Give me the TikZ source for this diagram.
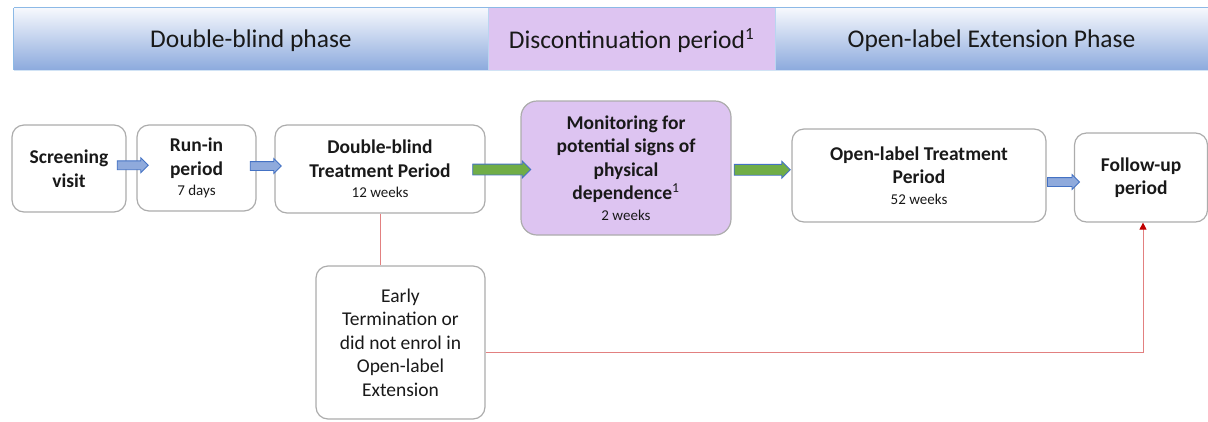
\documentclass[tikz,border=0pt]{standalone}
\usepackage{fontspec}
\setmainfont{Carlito}
\usetikzlibrary{shapes.arrows,arrows.meta,calc}

\definecolor{kopfblau}{RGB}{140,170,221}
\definecolor{kopfhell}{RGB}{246,248,253}
\definecolor{kopfrand}{RGB}{140,185,230}
\definecolor{lila}{RGB}{221,196,241}
\definecolor{boxgrau}{RGB}{172,172,172}
\definecolor{pfeilblau}{RGB}{143,170,220}
\definecolor{pfeilrand}{RGB}{68,114,196}
\definecolor{pfeilgruen}{RGB}{112,173,71}
\definecolor{rot}{RGB}{226,128,128}
\definecolor{rotdunkel}{RGB}{192,0,0}
\definecolor{schrift}{RGB}{25,25,25}

\newcommand{\gross}{\fontsize{19.5}{23.5}\selectfont}
\newcommand{\klein}{\fontsize{15}{19}\selectfont\mdseries}

\tikzset{
  kopf/.style={minimum height=62pt, inner sep=0pt, text=schrift, text depth=-2pt,
    font=\fontsize{25.5}{30}\selectfont},
  kopfblau/.style={kopf, top color=kopfhell, bottom color=kopfblau},
  box/.style={draw=boxgrau, line width=1.2pt, rounded corners=12pt, fill=white,
    align=center, inner sep=0pt, text=schrift, font=\gross\bfseries},
  blockpfeil/.style={single arrow, draw=pfeilrand, line width=0.8pt, fill=pfeilblau,
    inner xsep=0pt, inner ysep=4pt, single arrow head extend=3pt,
    single arrow head indent=0pt},
  gruenpfeil/.style={blockpfeil, fill=pfeilgruen, inner ysep=5pt},
  rotlinie/.style={draw=rot, line width=0.9pt},
}

\begin{document}
\begin{tikzpicture}[x=1pt,y=-1pt]
    \useasboundingbox (0,0) rectangle (1208,421);

    % Phasen oben
    \node[kopfblau, minimum width=474pt] (kdb) at (251,39) {Double-blind phase};
    \node[kopf, fill=lila, minimum width=287pt] (kdis) at (631.5,39)
        {Discontinuation period\textsuperscript{\fontsize{17}{20}\selectfont 1}};
    \node[kopfblau, minimum width=433pt] (kol) at (991.5,39) {Open-label Extension Phase};
    \draw[kopfrand, line width=0.8pt] (kdb.north west) -- (kol.north east);
    \draw[kopfrand!40, line width=0.8pt] (kdb.south west) -- (kol.south east);
    \draw[kopfrand, line width=0.8pt] (kdb.north west) -- (kdb.south west);
    \draw[kopfrand!60, line width=0.5pt] (kdis.north west) -- (kdis.south west)
        (kdis.north east) -- (kdis.south east);

    % Kaesten
    \node[box, minimum width=114pt, minimum height=87pt] (scr) at (69,168.5)
        {Screening\\visit};
    \node[box, minimum width=119pt, minimum height=86pt] (run) at (196.5,168)
        {Run-in\\period\\[-3pt]{\klein 7 days}};
    \node[box, minimum width=210pt, minimum height=88pt] (db) at (380,169)
        {Double-blind\\Treatment Period\\[-3pt]{\klein 12 weeks}};
    \node[box, fill=lila, rounded corners=16pt, minimum width=210pt, minimum height=134pt]
        (mon) at (626,168)
        {Monitoring for\\potential signs of\\physical\\dependence\textsuperscript{\mdseries 1}\\[-3pt]{\klein 2 weeks}};
    \node[box, minimum width=254pt, minimum height=93pt] (ol) at (919,175.5)
        {Open-label Treatment\\Period\\[-3pt]{\klein 52 weeks}};
    \node[box, minimum width=133pt, minimum height=89pt] (fu) at (1141,177.5)
        {Follow-up\\period};
    \node[box, font=\gross, minimum width=169pt, minimum height=153pt] (early) at (400.5,342.5)
        {Early\\Termination or\\did not enrol in\\Open-label\\Extension};

    % Blockpfeile
    \node[blockpfeil, minimum height=31pt] (p1) at ($(scr.east)!0.5!(run.west)+(-1,-3)$) {};
    \node[blockpfeil, minimum height=31pt] (p2) at ($(run.east)!0.5!(db.west)+(-2,-2.5)$) {};
    \node[gruenpfeil, minimum height=58pt] (p3) at ($(db.east)!0.5!(mon.west)+(-4,1)$) {};
    \node[gruenpfeil, minimum height=56pt] (p4) at ($(mon.east)!0.5!(ol.west)+(-2,-2)$) {};
    \node[blockpfeil, minimum height=32pt] (p5) at ($(ol.east)!0.5!(fu.west)+(1,5.5)$) {};

    % Abbruch
    \draw[rotlinie] (db.south) -- (db.south |- early.north);
    \draw[rotlinie, -{Triangle[length=7pt, width=7pt, color=rotdunkel]}]
        ([yshift=-9.5pt]early.east) -| ([xshift=2pt]fu.south);
\end{tikzpicture}
\end{document}
